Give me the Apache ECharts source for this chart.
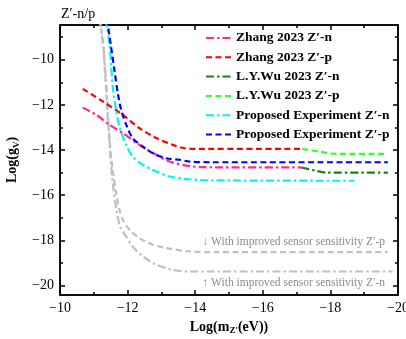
<!DOCTYPE html>
<html><head><meta charset="utf-8">
<script src="https://cdn.jsdelivr.net/npm/echarts@6/dist/echarts.min.js"></script>
<style>html,body{margin:0;padding:0;background:#fff}#c{width:406px;height:339px}</style>
</head><body><div id="c"></div>
<script>
const xTicks = [-20, -18, -16, -14, -12, -10];
const xMinor = [-19, -17, -15, -13, -11];
const yTicks = [-20, -18, -16, -14, -12, -10];
const yMinor = [-19, -17, -15, -13, -11, -9];

const zhangN = [[-10.675,-12.12],[-11.07,-12.44],[-11.46,-12.88],[-11.86,-13.25],[-12.35,-13.77],[-12.85,-14.21],[-13.24,-14.51],[-13.78,-14.70],[-14.3,-14.76],[-17.14,-14.77]];
const zhangP = [[-10.675,-11.29],[-11.27,-11.85],[-11.86,-12.44],[-12.35,-13.03],[-12.85,-13.47],[-13.34,-13.77],[-13.68,-13.92],[-14.13,-13.95],[-17.17,-13.95]];
const wuN = [[-17.14,-14.77],[-17.53,-14.90],[-17.88,-15.0],[-19.70,-15.0]];
const wuP = [[-17.17,-13.95],[-17.68,-14.07],[-18.17,-14.17],[-19.65,-14.17]];
const propN = [[-11.35,-8.2],[-11.46,-9.27],[-11.51,-10.15],[-11.56,-11.19],[-11.66,-12.22],[-11.76,-12.96],[-11.96,-13.77],[-12.15,-14.29],[-12.45,-14.65],[-12.85,-14.95],[-13.24,-15.17],[-13.78,-15.29],[-14.5,-15.34],[-18.71,-15.36]];
const propP = [[-11.39,-8.2],[-11.51,-9.42],[-11.61,-10.45],[-11.71,-11.48],[-11.81,-12.22],[-11.96,-12.88],[-12.15,-13.47],[-12.45,-13.85],[-12.75,-14.14],[-13.14,-14.36],[-13.54,-14.43],[-13.83,-14.51],[-14.5,-14.54],[-19.70,-14.54]];
const grayP = [[-11.15,-8.2],[-11.27,-9.12],[-11.32,-10.31],[-11.37,-11.48],[-11.41,-12.52],[-11.46,-13.40],[-11.51,-14.29],[-11.56,-14.88],[-11.66,-15.91],[-11.76,-16.65],[-11.86,-17.09],[-12.06,-17.53],[-12.35,-17.90],[-12.75,-18.19],[-13.14,-18.34],[-13.83,-18.49],[-14.6,-18.52],[-19.69,-18.52]];
const grayN = [[-11.18,-8.2],[-11.29,-9.57],[-11.38,-11.34],[-11.46,-13.55],[-11.55,-15.32],[-11.67,-16.65],[-11.79,-17.44],[-11.96,-17.83],[-12.15,-18.27],[-12.45,-18.71],[-12.85,-19.08],[-13.34,-19.30],[-13.83,-19.38],[-14.6,-19.38],[-19.84,-19.38]];

const SERIF = '"Liberation Serif","DejaVu Serif",serif';
const minus = v => String(v).replace('-', '\u2212');
const X_MIN = -20, X_MAX = -10, Y_MIN = -20.42, Y_MAX = -8.46;

function xAx(pos, values, len, labels, extra) {
  return Object.assign({
    type: 'value', position: pos, min: X_MIN, max: X_MAX, inverse: true,
    axisLine: { show: true, onZero: false, lineStyle: { color: '#000', width: 1.5 } },
    axisTick: { show: true, inside: true, length: len, customValues: values, lineStyle: { color: '#000', width: 1.5 } },
    axisLabel: labels ? { show: true, customValues: values, formatter: minus, fontFamily: SERIF, fontSize: 14, color: '#000', margin: 6 } : { show: false },
    splitLine: { show: false }
  }, extra || {});
}
function yAx(pos, values, len, labels, extra) {
  return Object.assign({
    type: 'value', position: pos, min: Y_MIN, max: Y_MAX,
    axisLine: { show: true, onZero: false, lineStyle: { color: '#000', width: 1.5 } },
    axisTick: { show: true, inside: true, length: len, customValues: values, lineStyle: { color: '#000', width: 1.5 } },
    axisLabel: labels ? { show: true, customValues: values, formatter: minus, fontFamily: SERIF, fontSize: 14, color: '#000', margin: 6 } : { show: false },
    splitLine: { show: false }
  }, extra || {});
}

const chart = echarts.init(document.getElementById('c'), null, { renderer: 'canvas' });
function ser(name, data, color, type, w) {
  return { name, type: 'line', data, xAxisIndex: 0, yAxisIndex: 0, showSymbol: false, symbol: 'none', smooth: 0.3,
    lineStyle: { color, width: w || 2.2, type }, itemStyle: { color }, z: 3 };
}
const dash = [6, 3.5], dashDot = [8, 3, 2.5, 3];
chart.setOption({
  animation: false,
  backgroundColor: '#fff',
  title: { text: 'Z\u2032-n/p', left: 56, top: 2, textStyle: { fontFamily: SERIF, fontSize: 14, fontWeight: 'normal', color: '#000' } },
  grid: { left: 60, right: 8, top: 25, bottom: 44, outerBoundsMode: 'none', containLabel: false },
  xAxis: [
    xAx('bottom', xTicks, 5, true, {
      name: '{b|Log(m}{s|Z\u2032}{b|(eV))}', nameLocation: 'middle', nameGap: 22,
      nameTextStyle: { rich: { b: { fontFamily: SERIF, fontSize: 14, fontWeight: 'bold', color: '#000' }, s: { fontFamily: SERIF, fontSize: 9, fontWeight: 'bold', color: '#000', verticalAlign: 'bottom', padding: [8, 0, 0, 0] } } }
    }),
    xAx('bottom', xMinor, 3, false),
    xAx('top', xTicks, 5, false),
    xAx('top', xMinor, 3, false)
  ],
  yAxis: [
    yAx('left', yTicks, 5, true, {
      name: '{b|Log(g}{s|V}{b|)}', nameLocation: 'middle', nameGap: 35, nameRotate: 90,
      nameTextStyle: { rich: { b: { fontFamily: SERIF, fontSize: 14, fontWeight: 'bold', color: '#000' }, s: { fontFamily: SERIF, fontSize: 9, fontWeight: 'bold', color: '#000', verticalAlign: 'bottom', padding: [8, 0, 0, 0] } } }
    }),
    yAx('left', yMinor, 3, false),
    yAx('right', yTicks, 5, false),
    yAx('right', yMinor, 3, false)
  ],
  legend: {
    orient: 'vertical', left: 200, top: 26, itemWidth: 25, itemHeight: 10, itemGap: 5.3,
    itemStyle: { opacity: 0 },
    data: ['Zhang 2023 Z\u2032-n', 'Zhang 2023 Z\u2032-p', 'L.Y.Wu 2023 Z\u2032-n', 'L.Y.Wu 2023 Z\u2032-p', 'Proposed Experiment Z\u2032-n', 'Proposed Experiment Z\u2032-p'],
    textStyle: { fontFamily: SERIF, fontSize: 13.5, fontWeight: 'bold', color: '#000', padding: [0, 0, 0, 0] }
  },
  graphic: [
    { type: 'text', right: 21, top: 236, style: { text: '\u2193 With improved sensor sensitivity Z\u2032-p', font: '11.5px ' + SERIF, fill: '#8c8c8c' } },
    { type: 'text', right: 21, top: 277, style: { text: '\u2191 With improved sensor sensitivity Z\u2032-n', font: '11.5px ' + SERIF, fill: '#8c8c8c' } }
  ],
  series: [
    ser('With improved sensor sensitivity Z\u2032-p', grayP, '#c0c0c0', dash),
    ser('With improved sensor sensitivity Z\u2032-n', grayN, '#c0c0c0', dashDot),
    ser('Zhang 2023 Z\u2032-n', zhangN, '#ff2b8a', dashDot),
    ser('Zhang 2023 Z\u2032-p', zhangP, '#ff0000', dash),
    ser('L.Y.Wu 2023 Z\u2032-n', wuN, '#1e7d1e', dashDot),
    ser('L.Y.Wu 2023 Z\u2032-p', wuP, '#33ff33', dash),
    ser('Proposed Experiment Z\u2032-n', propN, '#00f5f5', dashDot),
    ser('Proposed Experiment Z\u2032-p', propP, '#0000ff', dash)
  ]
});
</script>
</body></html>
